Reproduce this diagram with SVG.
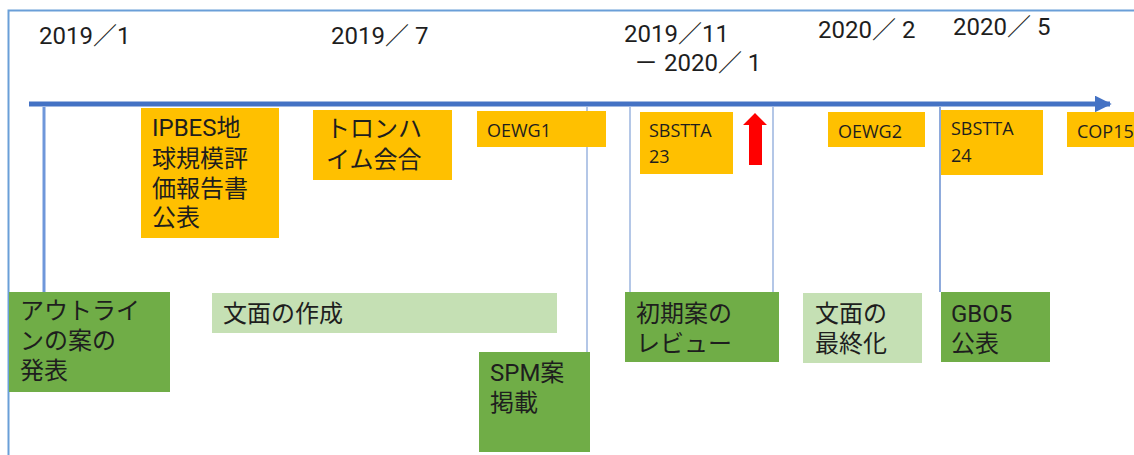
<svg xmlns="http://www.w3.org/2000/svg" width="1134" height="455" viewBox="0 0 1134 455">
<defs>
<style>
text{font-family:Roboto,"Noto Sans CJK JP",sans-serif;fill:#1e1e1e}
.date{font-size:24px}
.big{font-size:24px}
.sm{font-size:18px;font-family:"Open Sans","Noto Sans CJK JP",sans-serif}
.org{fill:#FFC000}
.grn{fill:#70AD47}
.lgr{fill:#C5E0B4}
.vl{stroke:#B4C7E7;stroke-width:2;fill:none}
</style>
<marker id="ah" viewBox="0 0 10 10" refX="9" refY="5" markerWidth="3.4" markerHeight="3.4" orient="auto" markerUnits="strokeWidth">
<path d="M0,0 L10,5 L0,10 z" fill="#4472C4"/>
</marker>
</defs>
<rect width="1134" height="455" fill="#fff"/>
<path d="M8.5,455 V10.5 H1134" fill="none" stroke="#6A9FD8" stroke-width="2"/>

<g id="dates">
<text class="date" x="39" y="44">2019／1</text>
<text class="date" x="331" y="44">2019／ 7</text>
<text class="date" x="624" y="42">2019／11</text>
<text class="date" x="634" y="71">－ 2020／ 1</text>
<text class="date" x="818" y="38">2020／ 2</text>
<text class="date" x="953" y="35">2020／ 5</text>
</g>

<g id="connectors">
<line x1="29" y1="104" x2="1110" y2="104" stroke="#4472C4" stroke-width="5" marker-end="url(#ah)"/>
<line x1="44" y1="107" x2="44" y2="292" stroke="#6F97DA" stroke-width="3"/>
<line class="vl" x1="587" y1="107" x2="587" y2="352"/>
<line class="vl" x1="630" y1="107" x2="630" y2="292"/>
<line class="vl" x1="773" y1="107" x2="773" y2="292"/>
<line x1="940" y1="107" x2="940" y2="292" stroke="#4472C4" stroke-width="1.2"/>
</g>

<g id="ipbes">
<rect class="org" x="141" y="108" width="138" height="130"/>
<text class="big" x="152" y="136">IPBES地</text>
<text class="big" x="152" y="167">球規模評</text>
<text class="big" x="152" y="197">価報告書</text>
<text class="big" x="152" y="226">公表</text>
</g>
<g id="trondheim">
<rect class="org" x="313" y="110" width="139" height="70"/>
<text class="big" x="326" y="137">トロンハ</text>
<text class="big" x="326" y="168">イム会合</text>
</g>
<g id="oewg1">
<rect class="org" x="477" y="111" width="129" height="36"/>
<text class="sm" x="487" y="137">OEWG1</text>
</g>
<g id="sbstta23">
<rect class="org" x="640" y="112" width="93" height="62"/>
<text class="sm" x="649" y="137">SBSTTA</text>
<text class="sm" x="649" y="163">23</text>
</g>
<g id="red-arrow">
<path d="M755,113 L767,125 L762,125 L762,165 L749,165 L749,125 L743,125 Z" fill="#FF0000"/>
</g>
<g id="oewg2">
<rect class="org" x="828" y="112" width="97" height="35"/>
<text class="sm" x="838" y="138">OEWG2</text>
</g>
<g id="sbstta24">
<rect class="org" x="941" y="110" width="102" height="65"/>
<text class="sm" x="951" y="135">SBSTTA</text>
<text class="sm" x="951" y="162">24</text>
</g>
<g id="cop15">
<rect class="org" x="1067" y="112" width="70" height="35"/>
<text class="sm" x="1077" y="138">COP15</text>
</g>

<g id="outline">
<rect class="grn" x="9" y="292" width="161" height="100"/>
<text class="big" x="20" y="319">アウトライ</text>
<text class="big" x="20" y="349">ンの案の</text>
<text class="big" x="20" y="379">発表</text>
</g>
<g id="drafting">
<rect class="lgr" x="212" y="293" width="345" height="40"/>
<text class="big" x="223" y="322">文面の作成</text>
</g>
<g id="spm">
<rect class="grn" x="479" y="352" width="111" height="100"/>
<text class="big" x="490" y="381">SPM案</text>
<text class="big" x="490" y="411">掲載</text>
</g>
<g id="review">
<rect class="grn" x="625" y="292" width="154" height="70"/>
<text class="big" x="636" y="322">初期案の</text>
<text class="big" x="636" y="352">レビュー</text>
</g>
<g id="final">
<rect class="lgr" x="803" y="293" width="119" height="70"/>
<text class="big" x="815" y="322">文面の</text>
<text class="big" x="815" y="352">最終化</text>
</g>
<g id="gbo5">
<rect class="grn" x="941" y="292" width="109" height="70"/>
<text class="big" x="951" y="322">GBO5</text>
<text class="big" x="951" y="352">公表</text>
</g>
</svg>
